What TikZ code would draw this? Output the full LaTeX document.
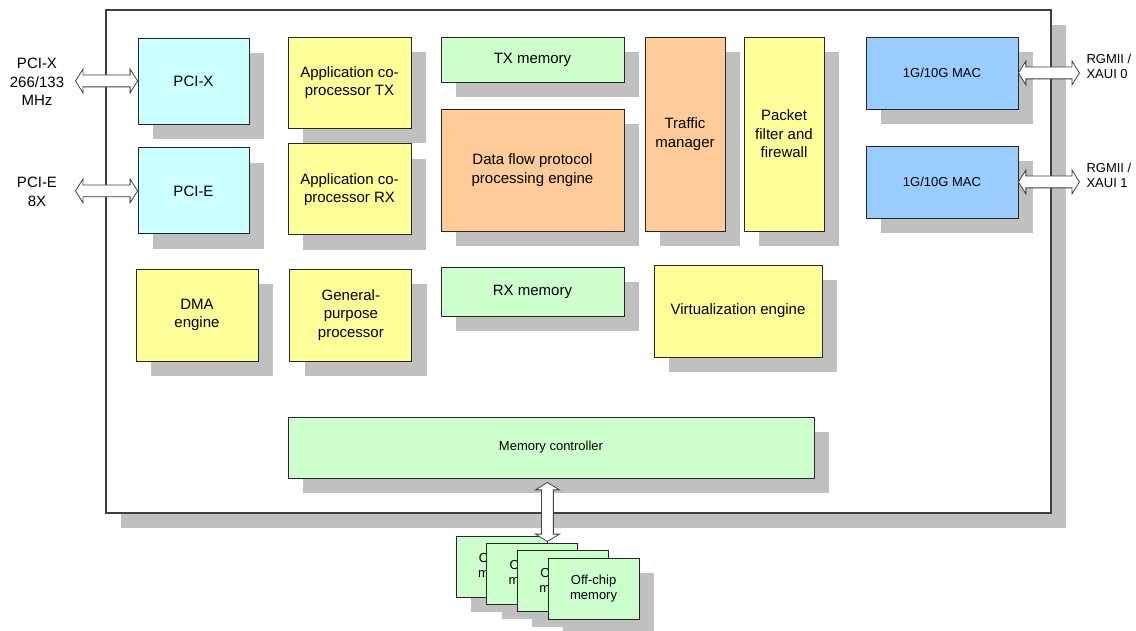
\documentclass[tikz,border=0pt]{standalone}
\usepackage{fontspec}
\setmainfont{Liberation Sans}
\usepackage{xcolor}
\usepackage{tikz}
\usetikzlibrary{shapes.arrows,positioning,shadows,calc}

\definecolor{pcicyan}{HTML}{CCFFFF}
\definecolor{unityellow}{HTML}{FFFF99}
\definecolor{memgreen}{HTML}{CCFFCC}
\definecolor{floworange}{HTML}{FFCC99}
\definecolor{macblue}{HTML}{99CCFF}
\definecolor{shade}{HTML}{C0C0C0}

\begin{document}
\begin{tikzpicture}[x=1pt, y=-1pt, every node/.style={font=\fontsize{15}{18.5}\selectfont}]
  \tikzset{
    block/.style={rectangle, draw=black!85, line width=0.9pt, align=center, inner sep=2pt, drop shadow={shadow xshift=15pt, shadow yshift=-15pt, fill=shade, opacity=1}},
    pci/.style={block, fill=pcicyan, minimum width=111pt, minimum height=86pt},
    unit/.style={block, fill=unityellow},
    mem/.style={block, fill=memgreen},
    flow/.style={block, fill=floworange},
    mac/.style={block, fill=macblue, minimum width=152pt, minimum height=72pt},
    small/.style={font=\fontsize{13}{15}\selectfont},
    link/.style={double arrow, draw=black!75, fill=white, line width=0.8pt, minimum width=23pt, inner xsep=0pt, inner ysep=5.5pt, double arrow head extend=6pt, double arrow tip angle=116}
  }
  \useasboundingbox (0,0) rectangle (1136,631);

  % chip
  \node[block, fill=white, draw=black!75, line width=1.1pt, minimum width=945pt, minimum height=503pt] (chip) at (578.5,261.5) {};

  % host side
  \node[pci] (pcix) at (193.5,81) {PCI-X};
  \node[pci, below=23pt of pcix] (pcie) {PCI-E};
  \node[unit, minimum width=123pt, minimum height=91pt] (apptx) at (349.5,82.5) {Application co-\\processor TX};
  \node[unit, minimum width=123pt, minimum height=91pt, below=15pt of apptx] (apprx) {Application co-\\processor RX};
  \node[unit, minimum width=122pt, minimum height=92pt] (dma) at (197,315) {DMA\\engine};
  \node[unit, minimum width=122pt, minimum height=92pt, right=31pt of dma] (gpp) {General-\\purpose\\processor};

  % data path
  \node[mem, minimum width=183pt, minimum height=45pt] (txmem) at (532.5,59.5) {TX memory};
  \node[flow, minimum width=183pt, minimum height=122pt] (dataflow) at (532.5,170) {Data flow protocol\\processing engine};
  \node[mem, minimum width=183pt, minimum height=49pt] (rxmem) at (532.5,291.5) {RX memory};
  \node[flow, minimum width=80pt, minimum height=194pt] (traffic) at (685,134) {Traffic\\manager};
  \node[unit, minimum width=80pt, minimum height=194pt] (filter) at (784,134) {Packet\\filter and\\firewall};
  \node[unit, minimum width=168pt, minimum height=92pt] (virt) at (738,311) {Virtualization engine};
  \node[mem, small, minimum width=526pt, minimum height=61pt] (memctl) at (551,447.5) {Memory controller};

  % network side
  \node[mac, small] (mac0) at (942,73) {1G/10G MAC};
  \node[mac, small] (mac1) at (942,182) {1G/10G MAC};

  % off-chip memory stack
  \foreach \i in {1,...,4}
    \node[mem, small, minimum width=91pt, minimum height=61pt] (mem\i) at ({501.5+30.7*(\i-1)},{566.5+7.35*(\i-1)}) {Off-chip\\memory};

  % interface labels
  \node[align=center] (pcixlbl) at (37,82) {PCI-X\\266/133\\MHz};
  \node[align=center] (pcielbl) at (37,192) {PCI-E\\8X};
  \node[small, align=left, anchor=west] (rgmii0) at (1083,66) {RGMII /\\XAUI 0};
  \node[small, align=left, anchor=west] (rgmii1) at (1083,175) {RGMII /\\XAUI 1};

  % arrow ends
  \coordinate[left=62pt of pcix.west] (pcixend);
  \coordinate[left=62pt of pcie.west] (pcieend);
  \coordinate[right=61pt of mac0.east] (mac0end);
  \coordinate[right=61pt of mac1.east] (mac1end);
  \coordinate (memtop) at ([yshift=-4pt]memctl.south -| mem1.north east);
  \coordinate (membot) at ([yshift=-6pt]mem1.north east);

  % arrows
  \foreach \a/\b in {pcixend/pcix.west, pcieend/pcie.west, mac0.east/mac0end, mac1.east/mac1end, memtop/membot}
    \path let \p1=($(\b)-(\a)$), \n1={veclen(\x1,\y1)} in (\a) -- (\b) node[link, midway, sloped, minimum height=\n1] {};
\end{tikzpicture}
\end{document}
